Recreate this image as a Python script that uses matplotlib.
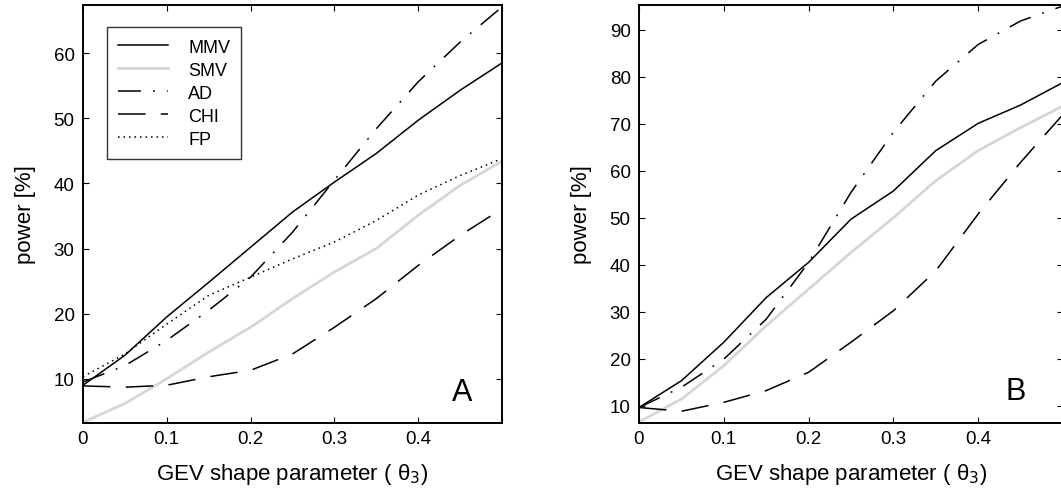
import numpy as np
import matplotlib
matplotlib.use("Agg")
import matplotlib.pyplot as plt

plt.rcParams['font.family'] = ['Liberation Sans', 'DejaVu Sans']

theta = [0, 0.05, 0.1, 0.15, 0.2, 0.25, 0.3, 0.35, 0.4, 0.45, 0.5]

# panel A
mmv_a = [9.0, 13.6, 19.5, 24.8, 30.2, 35.6, 40.2, 44.6, 49.7, 54.3, 58.5]
smv_a = [3.3, 6.2, 10.0, 14.1, 17.9, 22.3, 26.4, 30.0, 35.1, 39.7, 43.4]
ad_a = [9.5, 12.0, 15.9, 20.5, 25.6, 32.5, 40.5, 48.4, 55.6, 61.7, 67.1]
chi_a = [8.9, 8.7, 9.0, 10.3, 11.3, 13.8, 17.9, 22.3, 27.4, 32.0, 36.1]
fp_a = [10.3, 13.8, 18.4, 22.8, 25.6, 28.4, 31.0, 34.3, 38.2, 41.2, 43.8]

# panel B
mmv_b = [9.6, 15.3, 23.5, 33.0, 40.5, 49.7, 55.7, 64.3, 70.1, 74.0, 78.8]
smv_b = [6.5, 11.4, 18.5, 27.0, 34.8, 42.6, 50.0, 57.9, 64.3, 69.2, 73.8]
ad_b = [9.6, 13.9, 19.9, 28.4, 40.5, 55.4, 68.2, 79.1, 86.9, 91.9, 95.1]
chi_b = [9.6, 8.8, 10.7, 13.2, 17.1, 23.5, 30.2, 38.7, 50.8, 61.8, 72.0]

xticks = [0, 0.1, 0.2, 0.3, 0.4, 0.5]
xticklabels = ['0', '0.1', '0.2', '0.3', '0.4', '']

fig = plt.figure(figsize=(10.61, 4.89), dpi=100)
W, H = 1061.0, 489.0
axA = fig.add_axes([83 / W, (H - 424) / H, 419 / W, 418 / H])
axB = fig.add_axes([639 / W, (H - 424) / H, 424 / W, 418 / H])

gray = '#d6d6d2'


def draw(ax, mmv, smv, ad, chi, fp=None):
    ax.plot(theta, mmv, color='black', lw=1.1, label='MMV')
    ax.plot(theta, smv, color=gray, lw=2.0, label='SMV')
    l, = ax.plot(theta, ad, color='black', lw=1.1, label='AD')
    l.set_dashes([15, 8, 1.2, 8])
    l, = ax.plot(theta, chi, color='black', lw=1.1, label='CHI')
    l.set_dashes([18, 10])
    if fp is not None:
        l, = ax.plot(theta, fp, color='black', lw=1.1, label='FP')
        l.set_dashes([1.0, 2.6])
    ax.set_xlim(0, 0.5)
    ax.set_xticks(xticks)
    ax.set_xticklabels(xticklabels)
    ax.tick_params(direction='in', top=True, right=True, length=4,
                   labelsize=13.5, width=0.8)
    ax.tick_params(axis='y', pad=6)
    ax.tick_params(axis='x', pad=5)
    for s in ax.spines.values():
        s.set_linewidth(1.4)
    ax.set_xlabel('GEV shape parameter ( θ$_3$)', fontsize=16, labelpad=10)
    ax.set_ylabel('power [%]', fontsize=16, labelpad=13)


draw(axA, mmv_a, smv_a, ad_a, chi_a, fp_a)
axA.set_ylim(3.2, 67.4)
axA.set_yticks([10, 20, 30, 40, 50, 60])
axA.text(0.905, 0.074, 'A', transform=axA.transAxes, fontsize=22,
         ha='center', va='center')
leg = axA.legend(loc='upper left', bbox_to_anchor=(0.057, 0.947),
                 borderaxespad=0, fancybox=False, fontsize=13,
                 handlelength=2.8, handletextpad=1.1, labelspacing=0.3,
                 borderpad=0.6, handleheight=0.9)
leg.get_frame().set_edgecolor('black')
leg.get_frame().set_linewidth(1.0)

draw(axB, mmv_b, smv_b, ad_b, chi_b)
axB.set_ylim(6.3, 95.3)
axB.set_yticks([10, 20, 30, 40, 50, 60, 70, 80, 90])
axB.text(0.889, 0.076, 'B', transform=axB.transAxes, fontsize=22,
         ha='center', va='center')

fig.savefig('out.png', dpi=100)
